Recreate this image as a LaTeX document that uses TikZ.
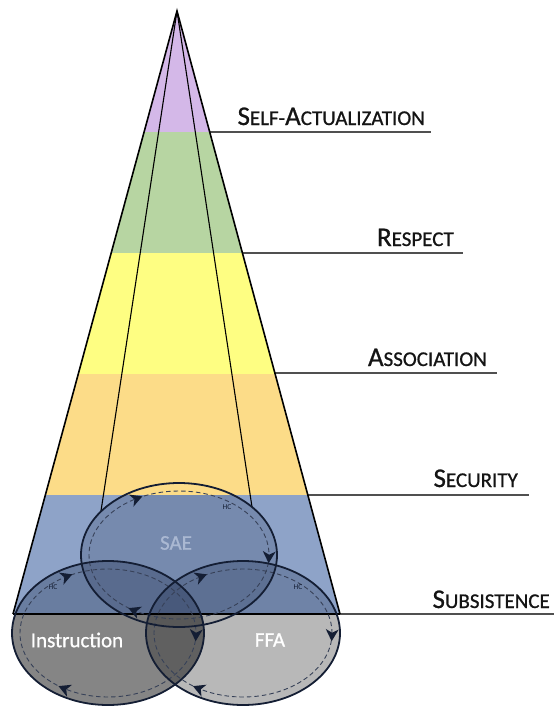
\documentclass[tikz,border=0pt]{standalone}
\usepackage{fontspec}
\setmainfont{Carlito}
\newfontfamily\labfont[FakeBold=0.8]{Carlito}
\usetikzlibrary{calc}
\definecolor{cpurple}{RGB}{212,184,232}
\definecolor{cgreen}{RGB}{183,213,162}
\definecolor{cyellow}{RGB}{254,254,130}
\definecolor{corange}{RGB}{252,220,136}
\definecolor{cblue}{RGB}{142,163,200}
\definecolor{navy}{RGB}{22,38,70}
\definecolor{ringcol}{RGB}{20,30,52}
\definecolor{dashcol}{RGB}{55,65,88}
\definecolor{saetext}{RGB}{170,184,210}
\definecolor{labcol}{RGB}{20,20,20}
\definecolor{rulecol}{RGB}{80,80,80}
\newcommand\smcap[2]{{\fontsize{27}{29}\selectfont #1}{\fontsize{21}{23}\selectfont #2}}
% #1 centre, #2 x radius, #3 y radius, #4 angle
\newcommand\flowhead[4]{%
  \pgfmathsetmacro\fhang{-atan2((#3)*cos(#4),-(#2)*sin(#4))}%
  \fill[flowtip, shift={($(#1)+(#4:#2 and #3)$)}, rotate=\fhang]
    (6,0) -- (-6,6.5) -- (-2.5,0) -- (-6,-6.5) -- cycle;}
\tikzset{
  ring/.style={draw=ringcol, line width=1.8pt},
  dashring/.style={draw=dashcol, dashed, dash pattern=on 4.5pt off 3pt, line width=.9pt},
  flowtip/.style={fill=ringcol},
  levellabel/.style={anchor=base east, inner sep=0pt, text=labcol, font=\labfont},
  rule/.style={draw=rulecol, line width=1.3pt},
  hc/.style={font=\fontsize{7.5}{8}\selectfont, text=ringcol, inner sep=0pt},
  circlabel/.style={font=\labfont\fontsize{21}{23}\selectfont, inner sep=0pt}
}
\begin{document}
\begin{tikzpicture}[x=1pt,y=-1pt]
\useasboundingbox (0,0) rectangle (554,707);
\coordinate (apex) at (177,11);
\coordinate (bl) at (13,614);
\coordinate (br) at (340,614);
\coordinate (sae) at (179,555);
\coordinate (ins) at (108,633);
\coordinate (ffa) at (243,633);

% bands
\begin{scope}
  \clip (apex) -- (bl) -- (br) -- cycle;
  \fill[cpurple] (0,0) rectangle (554,132);
  \fill[cgreen] (0,132) rectangle (554,253);
  \fill[cyellow] (0,253) rectangle (554,374);
  \fill[corange] (0,374) rectangle (554,495);
  \fill[cblue] (0,495) rectangle (554,614);
  \clip (0,495) rectangle (554,614);
  \fill[navy, opacity=.2] (sae) ellipse [x radius=98, y radius=72];
  \fill[navy, opacity=.3] (ins) ellipse [x radius=96, y radius=72];
  \fill[navy, opacity=.25] (ffa) ellipse [x radius=97, y radius=72];
\end{scope}

% lower gray parts
\begin{scope}
  \clip (0,614) rectangle (554,707);
  \fill[black, opacity=.48] (ins) ellipse [x radius=96, y radius=72];
  \fill[black, opacity=.28] (ffa) ellipse [x radius=97, y radius=72];
  \fill[black, opacity=.08] (sae) ellipse [x radius=98, y radius=72];
\end{scope}

% inner lines
\coordinate (il) at (101,511);
\coordinate (ir) at (252,507);
\draw[line width=1.1pt] (apex) -- (il);
\draw[line width=1.1pt] (apex) -- (ir);

% rules
\coordinate (r1a) at (209,132); \coordinate (r1b) at (431,132);
\coordinate (r2a) at (243,253); \coordinate (r2b) at (463,253);
\coordinate (r3a) at (275,373); \coordinate (r3b) at (497,373);
\coordinate (r4a) at (308,495); \coordinate (r4b) at (529,495);
\coordinate (r5b) at (554,614);
\draw[rule] (r1a) -- (r1b);
\draw[rule] (r2a) -- (r2b);
\draw[rule] (r3a) -- (r3b);
\draw[rule] (r4a) -- (r4b);
\draw[rule] (br) -- (r5b);
\draw[line width=1.3pt] (bl) -- (br);

% cone outline
\draw[line width=1.6pt, line join=miter] (bl) -- (apex) -- (br);

% dashed inner rings
\draw[dashring] (sae) ellipse [x radius=90, y radius=64];
\draw[dashring] (ins) ellipse [x radius=88, y radius=64];
\draw[dashring] (ffa) ellipse [x radius=89, y radius=64];

% rings
\draw[ring] (sae) ellipse [x radius=98, y radius=72];
\draw[ring] (ins) ellipse [x radius=96, y radius=72];
\draw[ring] (ffa) ellipse [x radius=97, y radius=72];

% flow arrow heads (clockwise circulation)
\foreach \t in {242,2,120} {
  \flowhead{sae}{90}{64}{\t}
  \flowhead{ins}{88}{64}{\t}
  \flowhead{ffa}{89}{64}{\t}
}

% HC labels
\node[hc] (hc1) at (227,507) {HC};
\node[hc] (hc2) at (53,587) {HC};
\node[hc] (hc3) at (298,587) {HC};

% circle labels
\node[circlabel, text=saetext] (saelab) at (176,543) {SAE};
\node[circlabel, text=white] (inslab) at (77,640) {Instruction};
\node[circlabel, text=white] (ffalab) at (270,640) {FFA};

% level labels
\node[levellabel] (l1) at (425,125) {\smcap{S}{ELF-}\smcap{A}{CTUALIZATION}};
\node[levellabel] (l2) at (454,246) {\smcap{R}{ESPECT}};
\node[levellabel] (l3) at (487,366) {\smcap{A}{SSOCIATION}};
\node[levellabel] (l4) at (518,487) {\smcap{S}{ECURITY}};
\node[levellabel] (l5) at (550,608) {\smcap{S}{UBSISTENCE}};
\end{tikzpicture}
\end{document}
